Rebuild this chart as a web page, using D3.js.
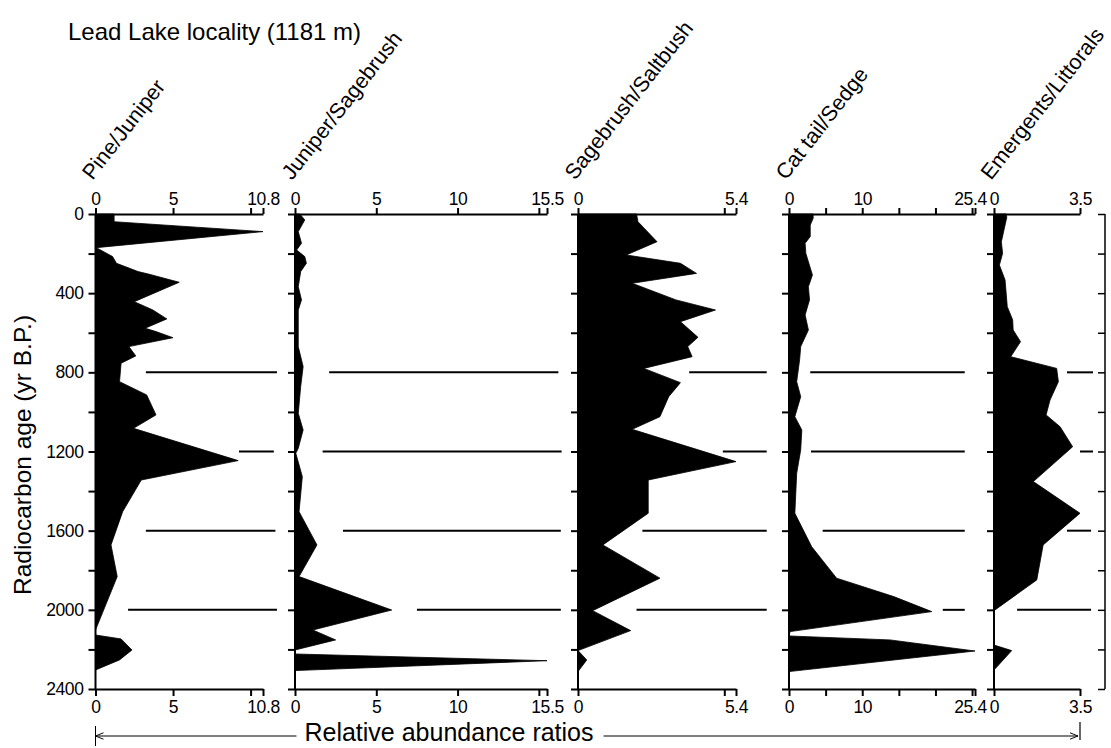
<!DOCTYPE html>
<html>
<head>
<meta charset="utf-8">
<script src="https://cdn.jsdelivr.net/npm/d3@7"></script>
<style>
  body { margin: 0; background: #fff; }
  text { font-family: "Liberation Sans", Arial, Helvetica, sans-serif; fill: #000; }
</style>
</head>
<body>
<svg id="chart" width="1111" height="748"></svg>
<script>
// Radiocarbon age axis
const ageTicks = [0, 200, 400, 600, 800, 1000, 1200, 1400, 1600, 1800, 2000, 2200, 2400];
const ageLabels = [0, 400, 800, 1200, 1600, 2000, 2400];

// Pollen ratio series (age in yr B.P., ratio value)
const pineJuniperAge = [0, 39, 89, 170, 215, 249, 291, 303, 345, 443, 485, 530, 577, 594, 625, 670, 717, 754, 847, 914, 1015, 1083, 1246, 1344, 1504, 1672, 1832, 2102, 2127, 2147, 2203, 2253, 2304, 2400];
const pineJuniperVal = [1.2, 1.2, 10.8, 0.05, 1.1, 1.35, 2.75, 3.4, 5.4, 2.5, 3.7, 4.6, 3.2, 3.9, 5.0, 2.15, 2.6, 1.65, 1.55, 3.3, 3.9, 2.45, 9.2, 2.95, 1.75, 1.0, 1.4, 0, 0, 1.65, 2.35, 1.55, 0, 0];

const juniperSagebrushAge = [0, 30, 89, 148, 182, 215, 249, 291, 367, 434, 485, 670, 771, 872, 1007, 1091, 1184, 1209, 1327, 1504, 1672, 1832, 2001, 2102, 2152, 2203, 2223, 2257, 2307, 2400];
const juniperSagebrushVal = [0.3, 0.6, 0.2, 0.4, 0.1, 0.6, 0.7, 0.35, 0.2, 0.4, 0.2, 0.2, 0.5, 0.35, 0.2, 0.5, 0.2, 0.05, 0.45, 0.25, 1.35, 0.25, 5.95, 1.1, 2.5, 0, 0, 15.5, 0, 0];

const sagebrushSaltbushAge = [0, 39, 140, 207, 249, 300, 350, 434, 485, 544, 623, 670, 721, 780, 852, 923, 1024, 1088, 1251, 1344, 1512, 1672, 1840, 2004, 2105, 2206, 2253, 2312, 2400];
const sagebrushSaltbushVal = [2.0, 2.05, 2.7, 1.65, 3.5, 4.05, 1.85, 3.35, 4.7, 3.5, 4.1, 3.75, 3.9, 2.25, 3.5, 3.1, 2.8, 1.85, 5.4, 2.4, 2.4, 0.85, 2.8, 0.5, 1.8, 0, 0.3, 0, 0];

const cattailSedgeAge = [0, 22, 56, 114, 148, 199, 308, 367, 434, 510, 586, 670, 737, 847, 923, 1024, 1091, 1192, 1310, 1512, 1681, 1840, 1933, 2009, 2110, 2132, 2152, 2208, 2312, 2400];
const cattailSedgeVal = [3.3, 3.3, 2.9, 2.9, 2.2, 2.3, 3.2, 2.65, 2.8, 2.2, 2.65, 1.6, 1.45, 1.05, 1.6, 0.8, 1.75, 1.6, 1.05, 0.8, 3.1, 6.5, 14.3, 19.5, 0.15, 0, 13.8, 25.4, 0, 0];

const emergentsLittoralsAge = [0, 17, 140, 199, 258, 333, 468, 535, 586, 645, 721, 780, 847, 940, 1015, 1075, 1176, 1352, 1512, 1672, 1849, 2004, 2178, 2206, 2304, 2400];
const emergentsLittoralsVal = [0.5, 0.52, 0.3, 0.35, 0.22, 0.45, 0.54, 0.76, 0.78, 1.08, 0.68, 2.55, 2.62, 2.28, 2.12, 2.69, 3.2, 1.6, 3.5, 2.0, 1.74, 0, 0, 0.72, 0, 0];

// Panel names, scale maxima and x-axis ticks
const panelNames = ["Pine/Juniper", "Juniper/Sagebrush", "Sagebrush/Saltbush", "Cat tail/Sedge", "Emergents/Littorals"];
const panelMax = [10.8, 15.5, 5.4, 25.4, 3.5];
const panelTicks = [[0, 5, 10, 10.8], [0, 5, 10, 15, 15.5], [0, 5, 5.4], [0, 5, 10, 15, 20, 25, 25.4], [0, 3.5]];
const panelTickLabels = [[0, 5, 10.8], [0, 5, 10, 15.5], [0, 5.4], [0, 10, 25.4], [0, 3.5]];

// Zone boundary lines: age, start value, end value (panel units)
const zoneAges = [800, 1200, 1600, 2000];
const zoneStart = [[3.25, 9.25, 3.25, 2.1], [2.1, 1.7, 2.95, 7.5], [3.8, 4.95, 2.2, 2.0], [2.9, 3.0, 4.6, 21.0], [2.97, 3.5, 2.97, 0.94]];
const zoneEnd = [[11.7, 11.5, 11.6, 11.7], [16.2, 16.4, 16.35, 16.35], [6.45, 6.45, 6.45, 6.45], [24.0, 24.0, 24.0, 24.0], [4.03, 4.03, 3.95, 3.95]];

const seriesAges = [pineJuniperAge, juniperSagebrushAge, sagebrushSaltbushAge, cattailSedgeAge, emergentsLittoralsAge];
const seriesVals = [pineJuniperVal, juniperSagebrushVal, sagebrushSaltbushVal, cattailSedgeVal, emergentsLittoralsVal];

// Layout
const panelLeft = [95.5, 295, 578, 789, 994];
const panelRight = [263, 547, 736, 975, 1080];
const plotTop = 214, plotBottom = 689, rightAxisX = 1105;

const svg = d3.select("#chart");
const y = d3.scaleLinear().domain([0, 2400]).range([plotTop, plotBottom]);
const fmt = d => String(d);

// Title
svg.append("text").attr("x", 68).attr("y", 40).attr("font-size", 24).text("Lead Lake locality (1181 m)");

// Y-axis label
svg.append("text")
  .attr("transform", `translate(31,455) rotate(-90)`)
  .attr("text-anchor", "middle").attr("font-size", 24.5)
  .text("Radiocarbon age (yr B.P.)");

function styleTickText(sel) {
  sel.attr("font-size", 17.5).attr("letter-spacing", "-0.4px")
    .attr("font-family", "Liberation Sans, Arial, sans-serif");
}

panelNames.forEach((name, i) => {
  const x = d3.scaleLinear().domain([0, panelMax[i]]).range([panelLeft[i], panelRight[i]]);
  const g = svg.append("g");

  // filled silhouette
  const pts = seriesAges[i].map((a, k) => [a, seriesVals[i][k]]);
  const area = d3.area()
    .y(d => y(d[0]))
    .x0(x(0))
    .x1(d => x(d[1]));
  g.append("path").datum(pts).attr("d", area).attr("fill", "#000").attr("stroke", "#000").attr("stroke-width", 0.8);

  // zone boundary lines
  zoneAges.forEach((a, k) => {
    g.append("line")
      .attr("x1", x(zoneStart[i][k])).attr("x2", x(zoneEnd[i][k]))
      .attr("y1", y(a)).attr("y2", y(a))
      .attr("stroke", "#000").attr("stroke-width", 2);
  });

  // left age axis of the panel
  const ay = d3.axisLeft(y).tickValues(ageTicks).tickSize(7)
    .tickFormat(i === 0 ? (d => ageLabels.includes(d) ? fmt(d) : "") : () => "").tickPadding(5);
  const ga = g.append("g").attr("transform", `translate(${panelLeft[i]},0)`).call(ay);
  ga.select(".domain").attr("stroke-width", 2).attr("d", `M0,${plotTop}V${plotBottom}`);
  ga.selectAll(".tick line").attr("stroke-width", 2);
  styleTickText(ga.selectAll("text"));

  // top and bottom value axes
  const labelFmt = d => panelTickLabels[i].includes(d) ? fmt(d) : "";
  const axT = d3.axisTop(x).tickValues(panelTicks[i]).tickSize(6).tickSizeOuter(0).tickFormat(labelFmt).tickPadding(3);
  const gt = g.append("g").attr("transform", `translate(0,${plotTop})`).call(axT);
  const axB = d3.axisBottom(x).tickValues(panelTicks[i]).tickSize(7).tickSizeOuter(0).tickFormat(labelFmt).tickPadding(5);
  const gb = g.append("g").attr("transform", `translate(0,${plotBottom})`).call(axB);
  [gt, gb].forEach(ga2 => {
    ga2.select(".domain").attr("stroke-width", 2);
    ga2.selectAll(".tick line").attr("stroke-width", 2);
    styleTickText(ga2.selectAll("text"));
    // keep the end label clear of the neighbouring panel's zero
    if (i === 3) ga2.selectAll(".tick text").filter(d => d === panelMax[i]).attr("dx", -5);
  });

  // rotated panel title
  g.append("text")
    .attr("transform", `translate(${panelLeft[i] - 3},181) rotate(-52)`)
    .attr("font-size", 21.5)
    .text(name);
});

// right age axis
const ar = d3.axisLeft(y).tickValues(ageTicks).tickSize(7).tickFormat(() => "");
const gr = svg.append("g").attr("transform", `translate(${rightAxisX},0)`).call(ar);
gr.select(".domain").attr("stroke-width", 1.5).attr("d", `M0,${plotTop}V${plotBottom}`);
gr.selectAll(".tick line").attr("stroke-width", 1.5);

// bottom caption with span arrow
const capY = 736;
const defs = svg.append("defs");
defs.append("marker").attr("id", "arrR").attr("viewBox", "0 0 10 10").attr("refX", 10).attr("refY", 5)
  .attr("markerWidth", 12).attr("markerHeight", 8).attr("orient", "auto").attr("markerUnits", "userSpaceOnUse")
  .append("path").attr("d", "M0,1L10,5L0,9").attr("fill", "none").attr("stroke", "#000").attr("stroke-width", 1.2);
const capText = svg.append("text").attr("x", 449).attr("y", 741).attr("text-anchor", "middle").attr("font-size", 25)
  .text("Relative abundance ratios");
const bb = capText.node().getBBox();
svg.append("line").attr("x1", bb.x - 8).attr("x2", panelLeft[0]).attr("y1", capY).attr("y2", capY)
  .attr("stroke", "#000").attr("stroke-width", 1).attr("marker-end", "url(#arrR)");
svg.append("line").attr("x1", bb.x + bb.width + 10).attr("x2", panelRight[4] - 2).attr("y1", capY).attr("y2", capY)
  .attr("stroke", "#000").attr("stroke-width", 1).attr("marker-end", "url(#arrR)");
svg.append("line").attr("x1", panelLeft[0]).attr("x2", panelLeft[0]).attr("y1", 726).attr("y2", 746).attr("stroke", "#000").attr("stroke-width", 1);
svg.append("line").attr("x1", panelRight[4]).attr("x2", panelRight[4]).attr("y1", 722).attr("y2", 740).attr("stroke", "#000").attr("stroke-width", 1.2);
</script>
</body>
</html>
